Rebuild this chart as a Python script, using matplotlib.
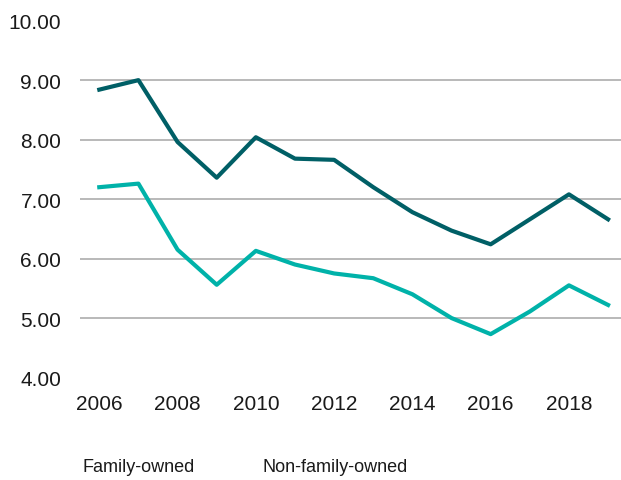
import matplotlib.pyplot as plt

years = list(range(2006, 2020))
family_owned = [8.84, 9.00, 7.96, 7.36, 8.04, 7.68, 7.66, 7.20, 6.78, 6.47, 6.24, 6.66, 7.08, 6.66]
non_family_owned = [7.20, 7.26, 6.15, 5.56, 6.13, 5.90, 5.75, 5.67, 5.40, 5.00, 4.73, 5.11, 5.55, 5.22]
series_names = ["Family-owned", "Non-family-owned"]
yticks = [4, 5, 6, 7, 8, 9, 10]
xticks = [2006, 2008, 2010, 2012, 2014, 2016, 2018]

plt.rcParams["font.family"] = ["Liberation Sans", "DejaVu Sans"]

fig = plt.figure(figsize=(6.21, 4.81), dpi=100)
ax = fig.add_axes([0.129, 0.213, 0.871, 0.742])

# gridlines only at the inner levels
for v in yticks[1:-1]:
    ax.axhline(v, color="#a6a6a6", lw=1.1, zorder=1)

ax.plot(years, family_owned, color="#005f66", lw=3, zorder=3)
ax.plot(years, non_family_owned, color="#00b2a9", lw=3, zorder=3)

ax.set_xlim(2005.51, 2019.33)
ax.set_ylim(4, 10)
ax.set_yticks(yticks)
ax.set_yticklabels([f"{v:.2f}" for v in yticks])
ax.set_xticks(xticks)
ax.tick_params(axis="both", length=0, labelsize=15, colors="#1a1a1a")
ax.tick_params(axis="y", pad=13.5)
ax.tick_params(axis="x", pad=12)
for s in ax.spines.values():
    s.set_visible(False)

# legend labels (no visible swatches in the original)
fig.text(82 / 621, 1 - 468 / 481, series_names[0], fontsize=13,
         va="center", ha="left", color="#1a1a1a")
fig.text(262 / 621, 1 - 468 / 481, series_names[1], fontsize=13,
         va="center", ha="left", color="#1a1a1a")

fig.savefig("out.png", dpi=100)
